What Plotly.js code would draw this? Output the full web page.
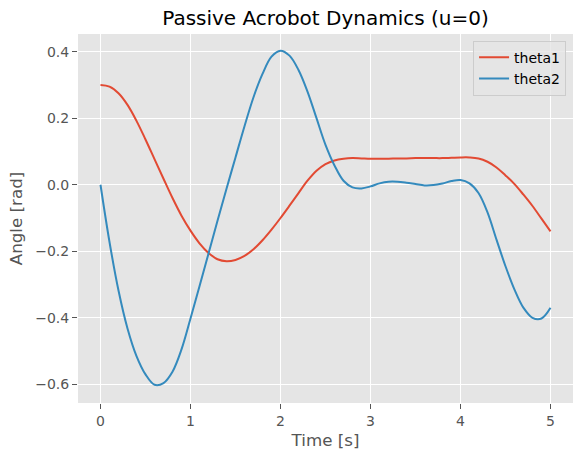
<!DOCTYPE html>
<html>
<head>
<meta charset="utf-8">
<script src="https://cdn.plot.ly/plotly-3.0.1.min.js"></script>
<style>html,body{margin:0;padding:0;background:#fff;}#chart{width:582px;height:460px;}</style>
</head>
<body>
<div id="chart"></div>
<script>
const time = [0.0,0.1,0.2,0.3,0.4,0.5,0.6,0.7,0.8,0.9,1.0,1.1,1.2,1.3,1.4,1.5,1.6,1.7,1.8,1.9,2.0,2.1,2.2,2.3,2.4,2.5,2.6,2.7,2.8,2.9,3.0,3.1,3.2,3.3,3.4,3.5,3.6,3.7,3.8,3.9,4.0,4.1,4.2,4.3,4.4,4.5,4.6,4.7,4.8,4.9,5.0];
const theta1 = [0.300,0.295,0.275,0.240,0.192,0.136,0.077,0.018,-0.040,-0.093,-0.138,-0.176,-0.205,-0.224,-0.230,-0.226,-0.214,-0.194,-0.167,-0.135,-0.100,-0.063,-0.025,0.012,0.042,0.062,0.073,0.078,0.080,0.079,0.078,0.078,0.078,0.079,0.079,0.080,0.080,0.080,0.080,0.081,0.082,0.082,0.079,0.069,0.052,0.028,0.002,-0.030,-0.064,-0.102,-0.140];
const theta2 = [0.000,-0.172,-0.318,-0.432,-0.515,-0.570,-0.601,-0.596,-0.562,-0.495,-0.402,-0.305,-0.207,-0.108,-0.012,0.082,0.176,0.263,0.333,0.385,0.403,0.388,0.345,0.280,0.200,0.120,0.058,0.012,-0.008,-0.011,-0.005,0.004,0.009,0.009,0.006,0.002,-0.002,-0.001,0.004,0.011,0.014,0.004,-0.025,-0.083,-0.165,-0.245,-0.315,-0.370,-0.400,-0.402,-0.370];
const seriesNames = ['theta1','theta2'];
const xTicks = [0,1,2,3,4,5];
const yTicks = [-0.6,-0.4,-0.2,0.0,0.2,0.4];
const yTickText = ['\u22120.6','\u22120.4','\u22120.2','0.0','0.2','0.4'];

const font = 'DejaVu Sans, Liberation Sans, sans-serif';
const traces = [
  {x: time, y: theta1, name: seriesNames[0], type: 'scatter', mode: 'lines',
   line: {color: '#E24A33', width: 2, shape: 'spline', smoothing: 1}},
  {x: time, y: theta2, name: seriesNames[1], type: 'scatter', mode: 'lines',
   line: {color: '#348ABD', width: 2, shape: 'spline', smoothing: 1}}
];
const layout = {
  width: 582, height: 460,
  margin: {l: 78, r: 9, t: 34, b: 57, pad: 0},
  paper_bgcolor: '#ffffff',
  plot_bgcolor: '#E5E5E5',
  font: {family: font, color: '#555555', size: 14},
  title: {text: 'Passive Acrobot Dynamics (u=0)', font: {family: font, size: 20, color: '#000000'},
          x: 0.5, xref: 'paper', xanchor: 'center', y: 0.96, yref: 'container', yanchor: 'middle'},
  xaxis: {
    range: [-0.25, 5.25], tickvals: xTicks, ticktext: xTicks.map(String),
    showgrid: true, gridcolor: '#ffffff', gridwidth: 1.1, zeroline: false,
    ticks: 'outside', ticklen: 5, tickwidth: 1.1, tickcolor: '#555555',
    tickfont: {family: font, size: 14, color: '#555555'}, showline: false,
    title: {text: 'Time [s]', font: {family: font, size: 16.7, color: '#555555'}, standoff: 6}
  },
  yaxis: {
    range: [-0.656, 0.453], tickvals: yTicks, ticktext: yTickText,
    showgrid: true, gridcolor: '#ffffff', gridwidth: 1.1, zeroline: false,
    ticks: 'outside', ticklen: 5, tickwidth: 1.1, tickcolor: '#555555',
    tickfont: {family: font, size: 14, color: '#555555'}, showline: false,
    title: {text: 'Angle [rad]', font: {family: font, size: 16.7, color: '#555555'}, standoff: 8}
  },
  showlegend: true,
  legend: {x: 0.986, y: 0.982, xanchor: 'right', yanchor: 'top',
           bgcolor: 'rgba(229,229,229,0.8)', bordercolor: '#CCCCCC', borderwidth: 1,
           font: {family: font, size: 14, color: '#000000'}, tracegroupgap: 0, itemwidth: 30}
};
Plotly.newPlot('chart', traces, layout, {staticPlot: true, displayModeBar: false});
</script>
</body>
</html>
